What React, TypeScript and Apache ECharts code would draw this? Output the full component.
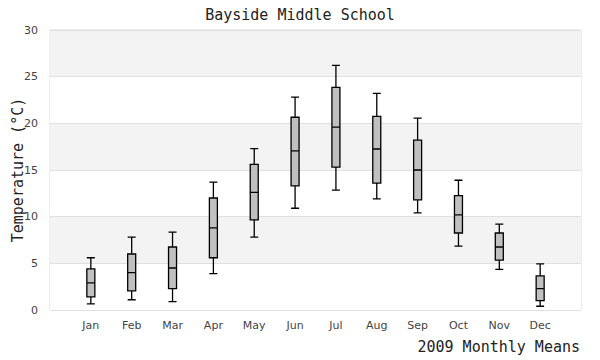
import React, { useEffect, useRef } from "react";
import * as echarts from "echarts";

const months = ["Jan", "Feb", "Mar", "Apr", "May", "Jun", "Jul", "Aug", "Sep", "Oct", "Nov", "Dec"];
const minVals = [0.65, 1.1, 0.9, 3.9, 7.8, 10.9, 12.85, 11.9, 10.4, 6.85, 4.35, 0.4];
const q1Vals = [1.4, 2.05, 2.3, 5.6, 9.65, 13.3, 15.3, 13.6, 11.8, 8.25, 5.35, 1.0];
const medianVals = [2.9, 4.0, 4.5, 8.8, 12.6, 17.05, 19.6, 17.25, 15.0, 10.2, 6.75, 2.3];
const q3Vals = [4.4, 6.0, 6.75, 12.0, 15.6, 20.65, 23.85, 20.75, 18.2, 12.25, 8.25, 3.65];
const maxVals = [5.6, 7.8, 8.35, 13.7, 17.3, 22.8, 26.2, 23.2, 20.55, 13.9, 9.2, 4.95];
const yTicks = [0, 5, 10, 15, 20, 25, 30];

const MONO = "'DejaVu Sans Mono', monospace";
const SANS = "'DejaVu Sans', sans-serif";

export default function App() {
  const ref = useRef<HTMLDivElement>(null);
  useEffect(() => {
    if (!ref.current) return;
    const chart = echarts.init(ref.current, undefined, { renderer: "svg" });
    const data = months.map((_, i) => [i + 1, minVals[i], q1Vals[i], medianVals[i], q3Vals[i], maxVals[i]]);
    chart.setOption({
      animation: false,
      backgroundColor: "#ffffff",
      title: {
        text: "Bayside Middle School",
        left: "center",
        top: 2,
        textStyle: { fontFamily: MONO, fontSize: 15, fontWeight: "normal", color: "#222" },
      },
      grid: {
        left: 50, right: 19, top: 30, bottom: 50,
        containLabel: false, outerBoundsMode: "none",
        show: true, borderColor: "#dddddd", borderWidth: 1, backgroundColor: "transparent",
      },
      xAxis: {
        type: "value",
        min: 0,
        max: 13,
        interval: 1,
        axisLine: { show: false },
        axisTick: { show: false },
        splitLine: { show: false },
        axisLabel: {
          margin: 10,
          fontFamily: SANS,
          fontSize: 11,
          color: "#444",
          formatter: (v: number) => months[v - 1] ?? "",
        },
      },
      yAxis: {
        type: "value",
        min: yTicks[0],
        max: yTicks[yTicks.length - 1],
        interval: 5,
        name: "Temperature (°C)",
        nameLocation: "middle",
        nameGap: 25,
        nameMoveOverlap: false,
        nameTextStyle: { fontFamily: MONO, fontSize: 15, color: "#222" },
        axisLine: { show: false },
        axisTick: { show: false },
        axisLabel: { margin: 12, fontFamily: SANS, fontSize: 11, color: "#444" },
        splitLine: { show: true, lineStyle: { color: "#e0e0e0", width: 1 } },
        splitArea: { show: true, areaStyle: { color: ["#ffffff", "#f3f3f3"] } },
      },
      graphic: [
        {
          type: "text",
          right: 20,
          top: 339,
          style: { text: "2009 Monthly Means", font: `15px ${MONO}`, fill: "#222" },
        },
      ],
      series: [
        {
          type: "boxplot",
          encode: { x: 0, y: [1, 2, 3, 4, 5] },
          data,
          boxWidth: [8, 8],
          itemStyle: { color: "#c0c0c0", borderColor: "#000", borderWidth: 1.3 },
        },
      ],
    });
    return () => chart.dispose();
  }, []);
  return <div ref={ref} style={{ position: "fixed", left: 0, top: 0, width: 600, height: 360 }} />;
}
